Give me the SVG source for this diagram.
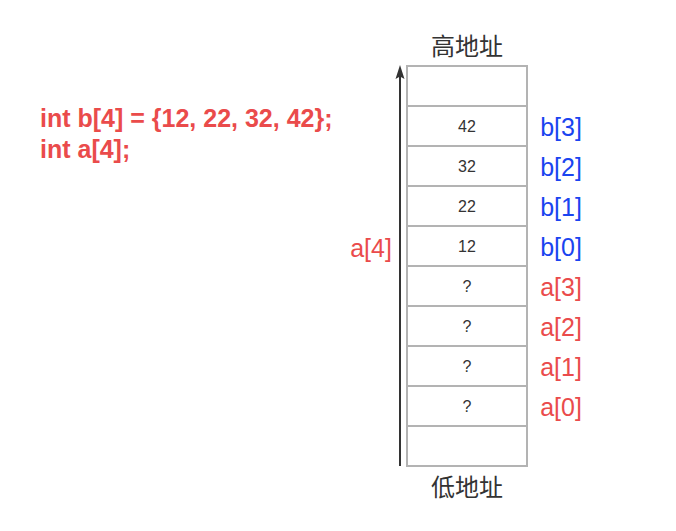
<svg xmlns="http://www.w3.org/2000/svg" width="676" height="531" viewBox="0 0 676 531">
<style>
.cell{fill:#fff;stroke:#b3b3b3;stroke-width:2}
.num{font-family:"Liberation Sans",Arial,sans-serif;font-size:16px;fill:#333;text-anchor:middle}
.lbl{font-family:"Liberation Sans",Arial,sans-serif;font-size:25px;text-anchor:middle}
.red{fill:#ea4b4b}
.blue{fill:#1a44f0}
.cjk{font-family:"Liberation Sans","Noto Sans CJK SC",sans-serif;font-size:24px;fill:#333;text-anchor:middle}
.code{font-family:"Liberation Sans",Arial,sans-serif;font-size:25px;font-weight:bold;fill:#ea4b4b}
</style>
<rect width="676" height="531" fill="#fff"/>
<g id="code">
<text class="code" x="40" y="127">int b[4] = {12, 22, 32, 42};</text>
<text class="code" x="40" y="158">int a[4];</text>
</g>
<g id="connectors">
<line x1="400" y1="466" x2="400" y2="74" stroke="#333" stroke-width="2"/>
<path d="M395.5,79 L400,65 L404.5,79 L400,76.5 Z" fill="#333"/>
</g>
<g id="memory">
<rect class="cell" x="407" y="66" width="120" height="40"/>
<rect class="cell" x="407" y="106" width="120" height="40"/>
<rect class="cell" x="407" y="146" width="120" height="40"/>
<rect class="cell" x="407" y="186" width="120" height="40"/>
<rect class="cell" x="407" y="226" width="120" height="40"/>
<rect class="cell" x="407" y="266" width="120" height="40"/>
<rect class="cell" x="407" y="306" width="120" height="40"/>
<rect class="cell" x="407" y="346" width="120" height="40"/>
<rect class="cell" x="407" y="386" width="120" height="40"/>
<rect class="cell" x="407" y="426" width="120" height="40"/>
<text class="num" x="467" y="132">42</text>
<text class="num" x="467" y="172">32</text>
<text class="num" x="467" y="212">22</text>
<text class="num" x="467" y="252">12</text>
<text class="num" x="467" y="292">?</text>
<text class="num" x="467" y="332">?</text>
<text class="num" x="467" y="372">?</text>
<text class="num" x="467" y="412">?</text>
</g>
<g id="labels">
<text class="lbl blue" x="561" y="136">b[3]</text>
<text class="lbl blue" x="561" y="176">b[2]</text>
<text class="lbl blue" x="561" y="216">b[1]</text>
<text class="lbl blue" x="561" y="256">b[0]</text>
<text class="lbl red" x="561" y="296">a[3]</text>
<text class="lbl red" x="561" y="336">a[2]</text>
<text class="lbl red" x="561" y="376">a[1]</text>
<text class="lbl red" x="561" y="416">a[0]</text>
<text class="lbl red" x="371" y="257">a[4]</text>
</g>
<g id="titles">
<text class="cjk" x="467" y="55">高地址</text>
<text class="cjk" x="467" y="496">低地址</text>
</g>
</svg>
